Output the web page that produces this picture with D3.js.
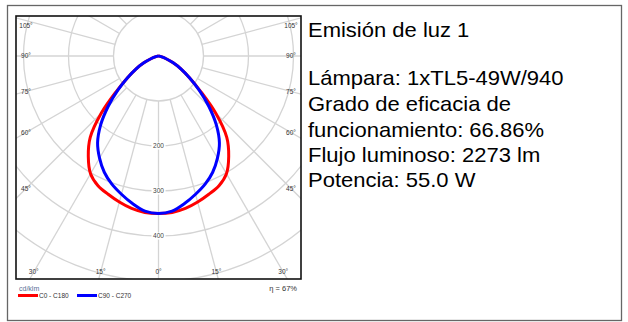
<!DOCTYPE html>
<html>
<head>
<meta charset="utf-8">
<script src="https://cdn.jsdelivr.net/npm/d3@7"></script>
<style>
  html, body { margin: 0; padding: 0; background: #fff; }
  svg { display: block; }
</style>
</head>
<body>
<svg id="ldc" width="628" height="322"></svg>
<script>
// Luminous intensity distribution (cd/klm) by gamma angle, two C-planes
const gammaAngles = [0, 5, 10, 15, 20, 25, 30, 35, 40, 45, 50, 55, 60, 65, 70, 75, 80, 85, 90];
const c0c180  = [350, 349, 344, 336, 327, 318, 302, 272, 236, 180, 122, 84, 58, 36, 18, 6, 2, 0, 0];
const c90c270 = [350, 346, 333, 318, 303, 285, 262, 236, 200, 158, 118, 84, 58, 36, 18, 6, 2, 0, 0];

const ringValues = [100, 200, 300, 400, 500, 600, 700];
const ringLabels = [200, 300, 400];
const spokeAngles = d3.range(0, 181, 15);
const sideLabels = [105, 90, 75, 60, 45];
const bottomLabels = [-30, -15, 0, 15, 30];

const seriesNames = ["C0 - C180", "C90 - C270"];
const seriesColors = ["#ff0000", "#0000ff"];

const infoLines = [
  "Emisión de luz 1",
  "",
  "Lámpara: 1xTL5-49W/940",
  "Grado de eficacia de",
  "funcionamiento: 66.86%",
  "Flujo luminoso: 2273 lm",
  "Potencia: 55.0 W"
];
const unitLabel = "cd/klm";
const etaLabel = "η = 67%";

const svg = d3.select("#ldc");
const font = "'Liberation Sans', Arial, sans-serif";

// Outer frame
svg.append("rect")
  .attr("x", 7.5).attr("y", 5.5).attr("width", 614).attr("height", 315)
  .attr("fill", "#fff").attr("stroke", "#666").attr("stroke-width", 1.3);

// Plot box
const box = { x0: 16, y0: 16, x1: 301, y1: 279 };
const cx = 158.5, cy = 56;
const r = d3.scaleLinear().domain([0, 500]).range([0, 225]);

svg.append("clipPath").attr("id", "plotClip")
  .append("rect")
  .attr("x", box.x0).attr("y", box.y0)
  .attr("width", box.x1 - box.x0).attr("height", box.y1 - box.y0);

const plot = svg.append("g").attr("clip-path", "url(#plotClip)");
const g = plot.append("g").attr("transform", `translate(${cx},${cy})`);

// gamma measured from straight down, positive to the right
const toRad = d => (180 - d) * Math.PI / 180;

// Rings
g.selectAll("circle.ring").data(ringValues).join("circle")
  .attr("class", "ring")
  .attr("r", d => r(d))
  .attr("fill", "none").attr("stroke", "#d4d4d4").attr("stroke-width", 1.3);

// Spokes, starting at the innermost ring
const spokes = [];
spokeAngles.forEach(a => { spokes.push(a); if (a !== 0 && a !== 180) spokes.push(-a); });
g.selectAll("line.spoke").data(spokes).join("line")
  .attr("class", "spoke")
  .attr("x1", d => Math.sin(toRad(d)) * r(100))
  .attr("y1", d => -Math.cos(toRad(d)) * r(100))
  .attr("x2", d => Math.sin(toRad(d)) * r(900))
  .attr("y2", d => -Math.cos(toRad(d)) * r(900))
  .attr("stroke", "#d4d4d4").attr("stroke-width", 1.3);

// Ring value labels along the 0° axis
const rl = g.selectAll("g.rlab").data(ringLabels).join("g")
  .attr("class", "rlab")
  .attr("transform", d => `translate(0,${r(d)})`);
rl.append("rect").attr("x", -7).attr("y", -3.5).attr("width", 14).attr("height", 7).attr("fill", "#fff");
rl.append("text")
  .attr("text-anchor", "middle").attr("dy", "0.35em")
  .attr("font-family", font).attr("font-size", 6.5).attr("fill", "#444")
  .text(d => d);

// Intensity curves
const radial = d3.lineRadial()
  .angle(d => toRad(d.g))
  .radius(d => r(d.v))
  .curve(d3.curveCatmullRom.alpha(0.5));

function series(values) {
  const pts = [];
  for (let i = gammaAngles.length - 1; i > 0; i--) pts.push({ g: -gammaAngles[i], v: values[i] });
  for (let i = 0; i < gammaAngles.length; i++) pts.push({ g: gammaAngles[i], v: values[i] });
  return pts;
}

[c0c180, c90c270].forEach((vals, i) => {
  g.append("path")
    .attr("d", radial(series(vals)))
    .attr("fill", "none")
    .attr("stroke", seriesColors[i])
    .attr("stroke-width", 3)
    .attr("stroke-linejoin", "round");
});

// Angle labels where the spokes meet the frame
const lab = { x0: 26, x1: 291, y0: 26, y1: 272 };
function labelPos(a, side) {
  const rad = a * Math.PI / 180;
  if (side === "bottom") {
    const dy = lab.y1 - cy;
    let x = cx + dy * Math.tan(rad);
    x = Math.max(lab.x0, Math.min(lab.x1, x));
    return [x, lab.y1];
  }
  const dx = (side === "left" ? cx - lab.x0 : lab.x1 - cx);
  let y = cy + dx / Math.tan(rad);
  y = Math.max(lab.y0, y);
  return [side === "left" ? lab.x0 : lab.x1, y];
}
const angleText = [];
sideLabels.forEach(a => {
  angleText.push({ t: a + "°", p: labelPos(a, "left") });
  angleText.push({ t: a + "°", p: labelPos(a, "right") });
});
bottomLabels.forEach(a => angleText.push({ t: Math.abs(a) + "°", p: labelPos(a, "bottom") }));

svg.selectAll("text.alab").data(angleText).join("text")
  .attr("class", "alab")
  .attr("x", d => d.p[0]).attr("y", d => d.p[1])
  .attr("text-anchor", "middle").attr("dy", "0.35em")
  .attr("font-family", font).attr("font-size", 6.5).attr("fill", "#333")
  .text(d => d.t);

// Plot frame
svg.append("rect")
  .attr("x", box.x0).attr("y", box.y0)
  .attr("width", box.x1 - box.x0).attr("height", box.y1 - box.y0)
  .attr("fill", "none").attr("stroke", "#111").attr("stroke-width", 1.6);

// Legend
svg.append("text")
  .attr("x", 19).attr("y", 291)
  .attr("font-family", font).attr("font-size", 7).attr("fill", "#5a6f95")
  .text(unitLabel);
const legendX = [18, 77];
seriesNames.forEach((name, i) => {
  svg.append("line")
    .attr("x1", legendX[i]).attr("x2", legendX[i] + 20)
    .attr("y1", 295.5).attr("y2", 295.5)
    .attr("stroke", seriesColors[i]).attr("stroke-width", 3);
  svg.append("text")
    .attr("x", legendX[i] + 21).attr("y", 298)
    .attr("font-family", font).attr("font-size", 6.5).attr("fill", "#333")
    .text(name);
});
svg.append("text")
  .attr("x", 297).attr("y", 291).attr("text-anchor", "end")
  .attr("font-family", font).attr("font-size", 7.5).attr("fill", "#333")
  .text(etaLabel);

// Lamp information
const info = svg.append("g").attr("transform", "translate(308,0) scale(1.1,1)");
const baselines = [37, 61, 85, 111, 137, 162, 187];
info.selectAll("text").data(infoLines).join("text")
  .attr("x", 0).attr("y", (d, i) => baselines[i])
  .attr("font-family", font).attr("font-size", 20).attr("fill", "#000")
  .text(d => d);
</script>
</body>
</html>
